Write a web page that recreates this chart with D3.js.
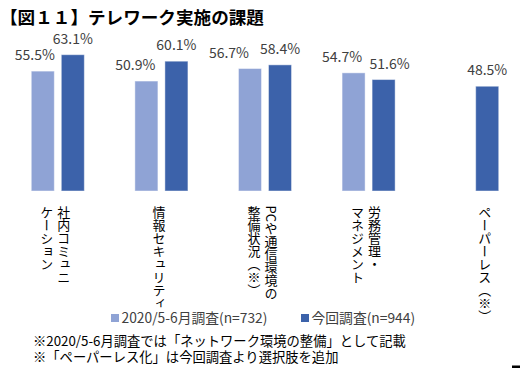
<!DOCTYPE html>
<html>
<head>
<meta charset="utf-8">
<script src="https://cdn.jsdelivr.net/npm/d3@7"></script>
<style>
  html, body { margin: 0; padding: 0; background: #fff; }
  #wrap { position: relative; width: 520px; height: 368px; }
  svg { display: block; }
  text, .note { font-family: "Noto Sans CJK JP", "Noto Sans", sans-serif; }
  .note { position: absolute; left: 33px; top: 333.2px; font-size: 13.3px; line-height: 16px; color: #000; white-space: nowrap; }
</style>
</head>
<body>
<div id="wrap">
<svg id="chart" width="520" height="368"></svg>
<div class="note" id="notes"></div>
</div>
<script>
// ---- data ----
const title = "【図１１】テレワーク実施の課題";
const categories = [
  ["社内コミュニ", "ケーション"],
  ["情報セキュリティ"],
  ["PCや通信環境の", "整備状況（※）"],
  ["労務管理・", "マネジメント"],
  ["ペーパーレス（※）"]
];
const seriesNames = ["2020/5-6月調査(n=732)", "今回調査(n=944)"];
const prevValues = [55.5, 50.9, 56.7, 54.7, null];
const currValues = [63.1, 60.1, 58.4, 51.6, 48.5];
const footnotes = [
  "※2020/5-6月調査では「ネットワーク環境の整備」として記載",
  "※「ペーパーレス化」は今回調査より選択肢を追加"
];

// ---- layout ----
const colors = ["#8FA3D5", "#3C62AA"];
const svg = d3.select("#chart");
const catIdx = d3.range(categories.length);
const x0 = d3.scaleBand().domain(catIdx).range([6, 524]).paddingInner(0.488).paddingOuter(0.244);
const x1 = d3.scaleBand().domain([0, 1]).range([0, x0.bandwidth()]).paddingInner(0.233);
const y = d3.scaleLinear().domain([0, 70]).range([191, 39.8]);

svg.append("text").attr("x", 0).attr("y", 24)
  .attr("font-size", 17.6).attr("font-weight", 700).attr("fill", "#000")
  .text(title);

const series = [prevValues, currValues];
// manual label nudges (as in the original chart's hand-placed labels)
const nudge = [[-8, -11, -21, -11.5, 0], [0, 0, 0, 6, 0]];

series.forEach((vals, s) => {
  const g = svg.append("g");
  const pts = catIdx.filter(i => vals[i] != null);
  g.selectAll("rect").data(pts).join("rect")
    .attr("x", i => x0(i) + x1(s))
    .attr("width", x1.bandwidth())
    .attr("y", i => y(vals[i]))
    .attr("height", i => y(0) - y(vals[i]))
    .attr("fill", colors[s])
    .attr("stroke", "rgba(255,255,255,0.45)")
    .attr("stroke-width", 1);
  g.selectAll("text").data(pts).join("text")
    .attr("x", i => x0(i) + x1(s) + x1.bandwidth() / 2 + nudge[s][i])
    .attr("y", i => y(vals[i]) - 11)
    .attr("text-anchor", "middle")
    .attr("font-size", 14)
    .attr("fill", "#404040")
    .text(i => vals[i].toFixed(1) + "%");
});

// vertical category labels centred on the bars present
const colGap = 17;
catIdx.forEach(i => {
  const present = [0, 1].filter(s => series[s][i] != null);
  const cx = d3.mean(present, s => x0(i) + x1(s) + x1.bandwidth() / 2) - 2.5;
  const lines = categories[i];
  lines.forEach((line, k) => {
    svg.append("text")
      .attr("x", cx + ((lines.length - 1) / 2 - k) * colGap)
      .attr("y", 205.5)
      .attr("font-size", 13)
      .attr("fill", "#000")
      .style("writing-mode", "vertical-rl")
      .text(line);
  });
});

// legend
const legendX = [111, 301];
seriesNames.forEach((name, s) => {
  svg.append("rect").attr("x", legendX[s]).attr("y", 314).attr("width", 8).attr("height", 8)
    .attr("fill", colors[s]);
  svg.append("text").attr("x", legendX[s] + 10.5).attr("y", 322.5)
    .attr("font-size", 13.8).attr("fill", "#404040").text(name);
});

// footnotes
d3.select("#notes").selectAll("div").data(footnotes).join("div").text(d => d);

svg.append("rect").attr("x", 512).attr("y", 365.5).attr("width", 8).attr("height", 2.5).attr("fill", "#000");
</script>
</body>
</html>
